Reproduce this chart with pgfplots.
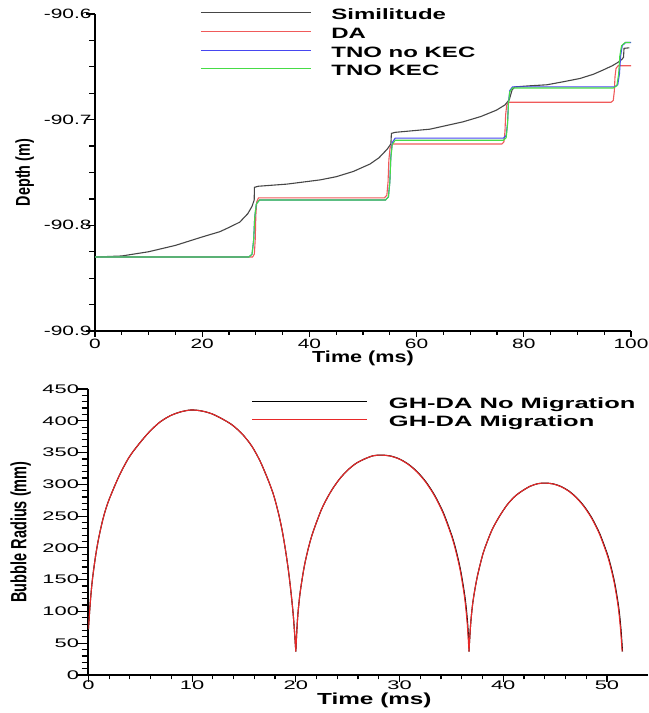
\documentclass[border=0pt]{standalone}
\usepackage{fontspec}
\usepackage{pgfplots}
\pgfplotsset{compat=1.18}
\setmainfont{Liberation Sans}
% the reference is stretched sideways, so the fonts are too
\newfontfamily\tickfont[FakeStretch=1.55]{Liberation Sans}
\newfontfamily\tickfontb[FakeStretch=1.75]{Liberation Sans}
\newfontfamily\labfont[FakeStretch=1.6]{Liberation Sans}
\newfontfamily\xlabfont[FakeStretch=1.35]{Liberation Sans}
\newfontfamily\xlabfontb[FakeStretch=1.52]{Liberation Sans}
\newfontfamily\legfont[FakeStretch=1.7]{Liberation Sans}
\newfontfamily\ylabfont[FakeStretch=0.72]{Liberation Sans}
\newfontfamily\ylabfontb[FakeStretch=0.66]{Liberation Sans}

\definecolor{simgray}{RGB}{70,70,70}
\definecolor{dared}{RGB}{240,90,90}
\definecolor{tnoblue}{RGB}{70,70,240}
\definecolor{tnogreen}{RGB}{70,220,70}
\definecolor{bred}{RGB}{232,40,40}

\pgfplotsset{
  chartbase/.style={
    scale only axis,
    axis lines=left,
    axis line style={-, line width=1.8bp},
    tick align=outside,
    tick style={line width=1.2bp, black},
    /pgf/number format/assume math mode=true,
    legend cell align=left,
  },
}

\begin{document}
\begin{tikzpicture}
\useasboundingbox (0,0) rectangle (649bp,713bp);

% ---- depth ----
\begin{axis}[chartbase,
  at={(95bp,382bp)}, anchor=south west,
  width=536bp, height=317bp,
  xmin=0, xmax=100, ymin=-90.9, ymax=-90.6,
  xtick={0,20,40,60,80,100}, minor x tick num=3,
  ytick={-90.9,-90.8,-90.7,-90.6},
  yticklabels={-90.9,-90.8,-90.7,-90.6},
  minor y tick num=3,
  xtick style={/pgfplots/major tick length=6bp, /pgfplots/minor tick length=4bp},
  ytick style={/pgfplots/major tick length=9bp, /pgfplots/minor tick length=5.7bp},
  tick label style={font=\tickfont\fontsize{13.5bp}{15bp}\selectfont, inner sep=1bp},
  xticklabel style={yshift=-3bp},
  yticklabel style={xshift=2bp},
  xlabel={Time (ms)},
  ylabel={Depth (m)},
  xlabel style={at={(axis description cs:0.5,0)}, anchor=center, yshift=-27bp,
    font=\xlabfont\bfseries\fontsize{16bp}{18bp}\selectfont},
  ylabel style={at={(axis description cs:-0.131,0.5)}, anchor=center,
    font=\ylabfont\bfseries\fontsize{20bp}{22bp}\selectfont},
  legend style={draw=none, fill=none, inner sep=0pt, column sep=20bp, row sep=0pt,
    at={(axis description cs:0.196,1.018)}, anchor=north west,
    font=\labfont\bfseries\fontsize{15bp}{18bp}\selectfont,
    nodes={inner sep=0pt, text height=11bp, text depth=7.8bp}},
  legend image code/.code={\draw[#1] (0bp,5.4bp) -- (110bp,5.4bp);},
]
\addplot[color=simgray, line width=1.1bp] coordinates {
  (0,-90.830) (5,-90.829) (10,-90.825) (15,-90.819) (20,-90.811) (23.3,-90.806)
  (25,-90.802) (27,-90.797) (28.5,-90.789) (29.3,-90.782) (29.7,-90.776)
  (29.75,-90.764) (30.5,-90.763) (35.8,-90.761) (42,-90.757) (45,-90.754)
  (48.2,-90.749) (51.3,-90.742) (53,-90.736) (54.5,-90.728) (55.2,-90.723)
  (55.3,-90.713) (56,-90.712) (62.5,-90.709) (68.7,-90.702) (72,-90.697)
  (74.9,-90.691) (76.5,-90.686) (77.3,-90.681) (77.8,-90.672) (78.3,-90.669)
  (81,-90.668) (84.3,-90.667) (87.5,-90.664) (90.5,-90.661) (93,-90.657)
  (94.8,-90.653) (96.5,-90.649) (97.5,-90.646) (98.3,-90.643) (98.6,-90.641)
  (98.7,-90.6325) (99.7,-90.632)
};
\addlegendentry{Similitude}
\addplot[color=dared, line width=1.1bp] coordinates {
  (0,-90.830) (29.4,-90.830) (29.73,-90.8272) (29.895,-90.8132) (30.005,-90.7908)
  (30.17,-90.7779) (30.5,-90.774) (54.0,-90.774) (54.45,-90.7715) (54.675,-90.7587)
  (54.825,-90.7383) (55.05,-90.7266) (55.5,-90.723) (75.9,-90.723) (76.29,-90.7210)
  (76.485,-90.7112) (76.615,-90.6954) (76.81,-90.6863) (77.2,-90.6835) (96.3,-90.6835)
  (96.69,-90.6818) (96.885,-90.6732) (97.015,-90.6594) (97.21,-90.6514) (97.6,-90.649)
  (100,-90.649)
};
\addlegendentry{DA}
\addplot[color=tnoblue, line width=1.1bp] coordinates {
  (0,-90.830) (28.7,-90.830) (29.3,-90.8273) (29.6,-90.8138) (29.8,-90.7922)
  (30.1,-90.7798) (30.7,-90.776) (54.2,-90.776) (54.74,-90.7731) (55.01,-90.7585)
  (55.19,-90.7351) (55.46,-90.7216) (56.0,-90.7175) (76.2,-90.7175) (76.71,-90.7151)
  (76.965,-90.7030) (77.135,-90.6836) (77.39,-90.6724) (77.9,-90.669) (96.9,-90.669)
  (97.53,-90.6669) (97.85,-90.6564) (98.06,-90.6396) (98.37,-90.6299) (99.0,-90.627)
  (100,-90.627)
};
\addlegendentry{TNO no KEC}
\addplot[color=tnogreen, line width=1.1bp] coordinates {
  (0,-90.830) (28.7,-90.830) (29.3,-90.8273) (29.6,-90.8138) (29.8,-90.7922)
  (30.1,-90.7798) (30.7,-90.776) (54.2,-90.776) (54.74,-90.7732) (55.01,-90.7591)
  (55.19,-90.7365) (55.46,-90.7235) (56.0,-90.7195) (76.2,-90.7195) (76.71,-90.7170)
  (76.965,-90.7047) (77.135,-90.6849) (77.39,-90.6735) (77.9,-90.670) (96.7,-90.670)
  (97.36,-90.6679) (97.69,-90.6571) (97.91,-90.6399) (98.24,-90.6300) (98.9,-90.627)
  (99.9,-90.627)
};
\addlegendentry{TNO KEC}
\end{axis}

% ---- bubble radius ----
\begin{axis}[chartbase,
  at={(88.4bp,38bp)}, anchor=south west,
  width=560bp, height=286bp,
  xmin=0, xmax=54, ymin=0, ymax=450,
  xtick={0,10,20,30,40,50}, minor x tick num=4,
  ytick={0,50,...,450}, minor y tick num=4,
  xtick style={/pgfplots/major tick length=6.7bp, /pgfplots/minor tick length=4.3bp},
  ytick style={/pgfplots/major tick length=11.7bp, /pgfplots/minor tick length=6.7bp},
  tick label style={font=\tickfontb\fontsize{12.5bp}{14bp}\selectfont, inner sep=1bp},
  yticklabel style={xshift=-4bp},
  unbounded coords=jump,
  xlabel={Time (ms)},
  ylabel={Bubble Radius (mm)},
  xlabel style={at={(axis description cs:0.5,0)}, anchor=center, yshift=-25bp, xshift=6bp,
    font=\xlabfontb\bfseries\fontsize{16bp}{18bp}\selectfont},
  ylabel style={at={(axis description cs:-0.121,0.5)}, anchor=center,
    font=\ylabfontb\bfseries\fontsize{22bp}{24bp}\selectfont},
  legend style={draw=none, fill=none, inner sep=0pt, column sep=21bp, row sep=0pt,
    at={(axis description cs:0.2916,0.968)}, anchor=north west,
    font=\legfont\bfseries\fontsize{15bp}{18bp}\selectfont,
    nodes={inner sep=0pt, text height=10.5bp, text depth=6.9bp}},
  legend image code/.code={\draw[#1] (0bp,5.4bp) -- (115bp,5.4bp);},
]
\addplot[color=black, line width=1.1bp, smooth, tension=0.5] coordinates {
  (0,72) (0.2,118) (0.4,152) (0.7,188) (1.0,216) (1.4,245) (1.9,272) (2.9,311)
  (3.9,342) (4.9,364) (5.9,383) (6.9,398) (7.9,408) (8.9,414) (9.9,417)
  (10.9,415.5) (11.9,411) (12.9,403) (13.9,393) (14.9,378) (15.8,359) (16.6,335)
  (17.4,304) (17.9,281) (18.35,253) (18.7,226) (19.0,197) (19.3,163) (19.55,128)
  (19.75,95) (19.9,62) (20.0,37)
  (20.02,nan)
  (20.0,37) (20.17,89) (20.42,130) (20.83,172) (21.25,202) (21.66,225) (22.49,261)
  (23.32,287) (24.15,307) (24.98,322) (25.81,333) (26.64,340) (27.47,345) (28.3,346)
  (29.18,344.4) (30.02,339.7) (30.86,331.6) (31.7,319.9) (32.54,304) (33.38,283)
  (34.22,255.6) (35.06,218.5) (35.48,194.3) (35.9,163.9) (36.32,121.4) (36.57,80.9)
  (36.72,37)
  (36.73,nan)
  (36.7,37) (36.85,78) (37.07,114) (37.44,150) (37.81,176) (38.17,197) (38.91,228)
  (39.65,250) (40.39,268) (41.12,281) (41.86,290) (42.6,297) (43.33,301) (44.07,302)
  (44.85,300.6) (45.59,296.5) (46.33,289.5) (47.07,279.2) (47.81,265.3) (48.55,247)
  (49.29,223) (50.03,190.7) (50.4,169.6) (50.77,143) (51.14,105.9) (51.36,70.6)
  (51.5,37)
};
\addlegendentry{GH-DA No Migration}
\addplot[color=bred, line width=1.1bp, smooth, tension=0.5] coordinates {
  (0,72) (0.2,118) (0.4,152) (0.7,188) (1.0,216) (1.4,245) (1.9,272) (2.9,311)
  (3.9,342) (4.9,364) (5.9,383) (6.9,398) (7.9,408) (8.9,414) (9.9,417)
  (10.9,415.5) (11.9,411) (12.9,403) (13.9,393) (14.9,378) (15.8,359) (16.6,335)
  (17.4,304) (17.9,281) (18.35,253) (18.7,226) (19.0,197) (19.3,163) (19.55,128)
  (19.75,95) (19.9,62) (20.0,37)
  (20.02,nan)
  (20.0,37) (20.17,89) (20.42,130) (20.83,172) (21.25,202) (21.66,225) (22.49,261)
  (23.32,287) (24.15,307) (24.98,322) (25.81,333) (26.64,340) (27.47,345) (28.3,346)
  (29.14,344.4) (29.98,339.7) (30.82,331.6) (31.66,319.9) (32.5,304) (33.34,283)
  (34.18,255.6) (35.02,218.5) (35.44,194.3) (35.86,163.9) (36.28,121.4) (36.53,80.9)
  (36.7,37)
  (36.71,nan)
  (36.7,37) (36.85,78) (37.07,114) (37.44,150) (37.81,176) (38.17,197) (38.91,228)
  (39.65,250) (40.39,268) (41.12,281) (41.86,290) (42.6,297) (43.33,301) (44.07,302)
  (44.81,300.6) (45.55,296.5) (46.29,289.5) (47.03,279.2) (47.77,265.3) (48.51,247)
  (49.25,223) (49.99,190.7) (50.36,169.6) (50.73,143) (51.1,105.9) (51.32,70.6)
  (51.47,37)
};
\addlegendentry{GH-DA Migration}
\end{axis}
\end{tikzpicture}
\end{document}
